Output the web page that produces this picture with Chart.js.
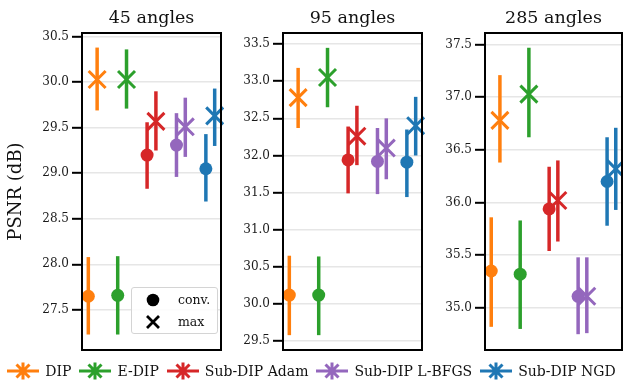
<!DOCTYPE html>
<html><head><meta charset="utf-8">
<script src="https://cdn.jsdelivr.net/npm/chart.js@4.4.0/dist/chart.umd.min.js"></script>
<style>
html,body{margin:0;padding:0;background:#fff;}
#wrap{position:relative;width:623px;height:382px;overflow:hidden;font-family:'DejaVu Serif',serif;color:#111;}
.panel{position:absolute;top:0;}
.panel canvas{display:block;}
#inlegend{position:absolute;left:131px;top:287px;width:87px;height:47px;border:1px solid #d4d4d4;border-radius:3px;background:rgba(255,255,255,0.85);box-sizing:border-box;}
#inlegend .row{position:absolute;left:0;width:100%;height:20px;display:flex;align-items:center;}
#inlegend .sym{position:absolute;left:13px;width:16px;height:16px;}
#inlegend .txt{position:absolute;left:46px;font-size:12.5px;line-height:20px;}
#legend{position:absolute;left:0;top:360px;width:623px;height:22px;display:flex;justify-content:center;align-items:center;}
#legend .item{display:flex;align-items:center;margin:0 4px;}
#legend .item svg{margin-right:6px;}
#legend .item span{font-size:14px;white-space:nowrap;}
</style></head>
<body><div id="wrap">
<div class="panel" style="left:0px"><canvas id="c0" width="224" height="362"></canvas></div>
<div class="panel" style="left:224px"><canvas id="c1" width="201" height="362"></canvas></div>
<div class="panel" style="left:425px"><canvas id="c2" width="198" height="362"></canvas></div>
<div id="inlegend">
  <div class="row" style="top:2px"><svg class="sym" viewBox="0 0 16 16"><circle cx="8" cy="8" r="6.3" fill="#000"/></svg><span class="txt">conv.</span></div>
  <div class="row" style="top:24px"><svg class="sym" viewBox="0 0 16 16"><path d="M2 2 L14 14 M2 14 L14 2" stroke="#000" stroke-width="2.8" fill="none"/></svg><span class="txt">max</span></div>
</div>
<div id="legend"></div>
</div>
<script>
// ---- data ----
const methods = ['DIP', 'E-DIP', 'Sub-DIP Adam', 'Sub-DIP L-BFGS', 'Sub-DIP NGD'];
const panelTitles = ['45 angles', '95 angles', '285 angles'];

const conv45   = [27.65, 27.66, 29.20, 29.31, 29.05];
const conv45Lo = [27.23, 27.23, 28.83, 28.96, 28.69];
const conv45Hi = [28.08, 28.09, 29.56, 29.66, 29.43];
const max45    = [30.03, 30.03, 29.57, 29.51, 29.63];
const max45Lo  = [29.69, 29.71, 29.25, 29.18, 29.30];
const max45Hi  = [30.38, 30.36, 29.90, 29.83, 29.93];

const conv95   = [30.12, 30.12, 31.94, 31.92, 31.91];
const conv95Lo = [29.58, 29.58, 31.49, 31.48, 31.44];
const conv95Hi = [30.65, 30.64, 32.39, 32.37, 32.35];
const max95    = [32.78, 33.05, 32.26, 32.10, 32.40];
const max95Lo  = [32.37, 32.65, 31.87, 31.68, 32.00];
const max95Hi  = [33.18, 33.45, 32.67, 32.50, 32.79];

const conv285   = [35.35, 35.32, 35.94, 35.11, 36.20];
const conv285Lo = [34.82, 34.80, 35.54, 34.75, 35.78];
const conv285Hi = [35.86, 35.83, 36.34, 35.48, 36.62];
const max285    = [36.78, 37.03, 36.02, 35.11, 36.32];
const max285Lo  = [36.38, 36.62, 35.63, 34.76, 35.93];
const max285Hi  = [37.21, 37.47, 36.40, 35.48, 36.71];

const yMin = [27.06, 29.38, 34.60];
const yMax = [30.54, 33.65, 37.61];
const yStep = 0.5;

// ---- styles ----
const colors = ['#ff7f0e', '#2ca02c', '#d62728', '#9467bd', '#1f77b4'];
const OFF_CONV = -0.15, OFF_MAX = 0.15;
const FONT = "'DejaVu Serif', serif";
Chart.defaults.font.family = FONT;

const frame = {
  id: 'frame',
  afterDatasetsDraw(chart) {
    const a = chart.chartArea, ctx = chart.ctx;
    ctx.save();
    ctx.strokeStyle = '#000';
    ctx.lineWidth = 2;
    ctx.strokeRect(a.left, a.top, a.right - a.left, a.bottom - a.top);
    ctx.restore();
  }
};

function buildDatasets(conv, convLo, convHi, mx, mxLo, mxHi) {
  const ds = [];
  let ord = 1000;
  methods.forEach((m, i) => {
    const c = colors[i];
    const xc = i + OFF_CONV, xm = i + OFF_MAX;
    ds.push({data: [{x: xc, y: convLo[i]}, {x: xc, y: convHi[i]}], showLine: true, borderColor: c, borderWidth: 3.5, borderCapStyle: 'butt', pointRadius: 0, order: ord--, clip: false});
    ds.push({data: [{x: xc, y: conv[i]}], pointStyle: 'circle', pointRadius: 6.5, backgroundColor: c, borderColor: c, borderWidth: 0, order: ord--, clip: false});
    ds.push({data: [{x: xm, y: mxLo[i]}, {x: xm, y: mxHi[i]}], showLine: true, borderColor: c, borderWidth: 3.5, borderCapStyle: 'butt', pointRadius: 0, order: ord--, clip: false});
    ds.push({data: [{x: xm, y: mx[i]}], pointStyle: 'crossRot', pointRadius: 12, backgroundColor: c, borderColor: c, borderWidth: 3, order: ord--, clip: false});
  });
  return ds;
}

const panelData = [
  [conv45, conv45Lo, conv45Hi, max45, max45Lo, max45Hi],
  [conv95, conv95Lo, conv95Hi, max95, max95Lo, max95Hi],
  [conv285, conv285Lo, conv285Hi, max285, max285Lo, max285Hi]
];
const axisWidth = [82, 59, 60];
const padRight = [3, 3, 1];

panelData.forEach((pd, p) => {
  new Chart(document.getElementById('c' + p), {
    type: 'scatter',
    data: {datasets: buildDatasets(...pd)},
    options: {
      responsive: false,
      animation: false,
      events: [],
      layout: {autoPadding: false, padding: {top: 0, left: 0, right: padRight[p], bottom: 12}},
      plugins: {
        legend: {display: false},
        tooltip: {enabled: false},
        title: {display: true, text: panelTitles[p], fullSize: false, color: '#111',
                font: {size: 17.5, weight: 'normal', family: FONT}, padding: {top: 7.5, bottom: 4.5}}
      },
      scales: {
        x: {type: 'linear', min: -0.365, max: 4.365, display: false},
        y: {
          type: 'linear', min: yMin[p], max: yMax[p],
          afterFit: (s) => { s.width = axisWidth[p]; },
          border: {display: false},
          grid: {color: '#e6e6e6', lineWidth: 1.6, tickColor: '#000', tickWidth: 2, tickLength: 10, drawTicks: true},
          ticks: {stepSize: yStep, includeBounds: false, padding: 3, color: '#1a1a1a',
                  font: {size: 12, family: FONT}, callback: (v) => v.toFixed(1)},
          title: {display: p === 0, text: 'PSNR (dB)', color: '#111', font: {size: 18, family: FONT}, padding: {top: 6, bottom: 0}}
        }
      }
    },
    plugins: [frame]
  });
});

// bottom legend
const lg = document.getElementById('legend');
methods.forEach((m, i) => {
  const c = colors[i];
  const item = document.createElement('div');
  item.className = 'item';
  item.innerHTML = '<svg width="32" height="20" viewBox="0 0 32 20">' +
    '<path d="M0 10 L32 10 M16 1.5 L16 18.5 M9.5 3.5 L22.5 16.5 M9.5 16.5 L22.5 3.5" stroke="' + c + '" stroke-width="3" fill="none"/></svg>' +
    '<span>' + m + '</span>';
  lg.appendChild(item);
});
</script>
</body></html>
